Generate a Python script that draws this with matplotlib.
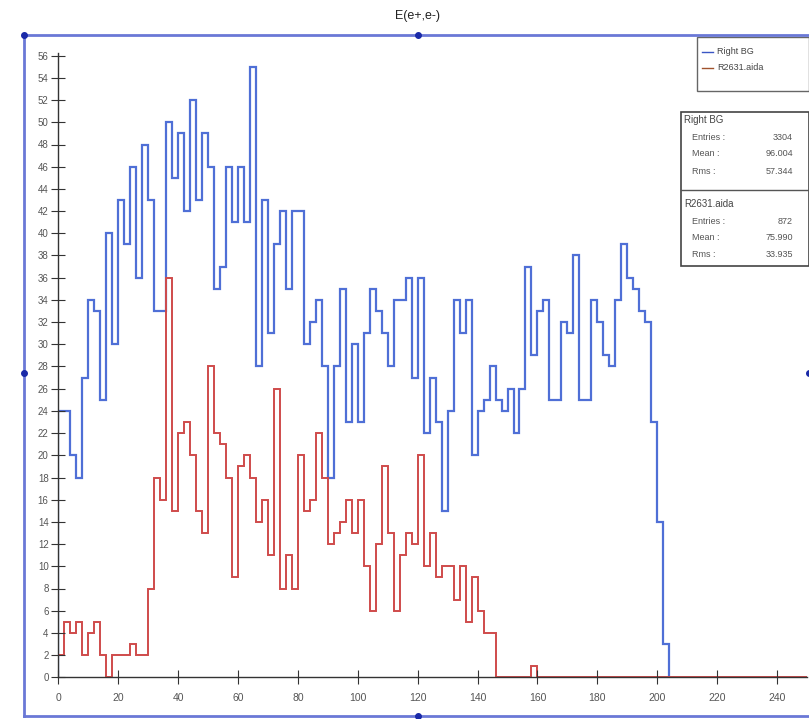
import numpy as np
import matplotlib
matplotlib.use("Agg")
import matplotlib.pyplot as plt
from matplotlib.patches import Rectangle
from matplotlib.lines import Line2D

plt.rcParams['font.family'] = ['Liberation Sans', 'DejaVu Sans']

# histogram contents, bin width 2 starting at 0
bin_width = 2
blue_counts = [24, 24, 20, 18, 27, 34, 33, 25, 40, 30,
               43, 39, 46, 36, 48, 43, 33, 33, 50, 45,
               49, 42, 52, 43, 49, 46, 35, 37, 46, 41,
               46, 41, 55, 28, 43, 31, 39, 42, 35, 42,
               42, 30, 32, 34, 28, 18, 28, 35, 23, 30,
               23, 31, 35, 33, 31, 28, 34, 34, 36, 27,
               36, 22, 27, 23, 15, 24, 34, 31, 34, 20,
               24, 25, 28, 25, 24, 26, 22, 26, 37, 29,
               33, 34, 25, 25, 32, 31, 38, 25, 25, 34,
               32, 29, 28, 34, 39, 36, 35, 33, 32, 23, 14, 3]
red_counts = [2, 5, 4, 5, 2, 4, 5, 2, 0, 2,
              2, 2, 3, 2, 2, 8, 18, 16, 36, 15,
              22, 23, 20, 15, 13, 28, 22, 21, 18, 9,
              19, 20, 18, 14, 16, 11, 26, 8, 11, 8,
              20, 15, 16, 22, 18, 12, 13, 14, 16, 13,
              16, 10, 6, 12, 19, 13, 6, 11, 13, 12,
              20, 10, 13, 9, 10, 10, 7, 10, 5, 9,
              6, 4, 4, 0, 0, 0, 0, 0, 0, 1]
n_bins_total = 125

labels = ["Right BG", "R2631.aida"]
stats = {"Right BG": ("3304", "96.004", "57.344"),
         "R2631.aida": ("872", "75.990", "33.935")}

W, H = 809, 719
def fx(px):
    return px / W
def fy(py):
    return 1 - py / H

fig = plt.figure(figsize=(W / 100, H / 100), dpi=100)
fig.patch.set_facecolor("white")

x0, x1 = 58.3, 807.0
y0 = 677.3
ytop = 56.2
ppu_y = 11.1
ax = fig.add_axes([fx(x0), fy(y0), (x1 - x0) / W, ytop * ppu_y / H])

blue = np.array(blue_counts, dtype=float)
red = np.zeros(n_bins_total)
red[:len(red_counts)] = red_counts
blue_edges = np.arange(len(blue) + 1) * bin_width
red_edges = np.arange(n_bins_total + 1) * bin_width

ax.stairs(blue, blue_edges, baseline=0, color="#4f6fd6", linewidth=1.6)
ax.stairs(red, red_edges, baseline=0, color="#cf4b4b", linewidth=1.4)

ax.set_xlim(0, 250)
ax.set_ylim(0, ytop)
ax.set_xticks(np.arange(0, 241, 20))
ax.set_yticks(np.arange(0, 57, 2))
for s in ["top", "right"]:
    ax.spines[s].set_visible(False)
for s in ["left", "bottom"]:
    ax.spines[s].set_color("#333333")
    ax.spines[s].set_linewidth(1.0)
ax.tick_params(axis="y", direction="inout", length=10, width=0.8, pad=2,
               labelsize=7, labelcolor="#555555", color="#333333")
ax.tick_params(axis="x", direction="inout", length=10, width=0.8, pad=6,
               labelsize=7.5, labelcolor="#555555", color="#333333")
ax.set_facecolor("none")

# title
fig.text(fx(418), fy(16), "E(e+,e-)", ha="center", va="center", fontsize=9, color="#222222")

# selection frame around the plot
sel = "#6a78d6"
fig.add_artist(Line2D([fx(24), fx(809)], [fy(35), fy(35)], color=sel, lw=2))
fig.add_artist(Line2D([fx(24), fx(24)], [fy(35), fy(716)], color=sel, lw=2))
fig.add_artist(Line2D([fx(24), fx(809)], [fy(716), fy(716)], color=sel, lw=2))
for px, py in [(24, 35), (418, 35), (24, 373), (418, 716), (809, 373)]:
    fig.add_artist(Line2D([fx(px)], [fy(py)], marker="o", ms=4, color="#1a2aa8"))

# legend box
fig.add_artist(Rectangle((fx(697), fy(91)), fx(809) - fx(697), fy(37) - fy(91),
                         transform=fig.transFigure, facecolor="white",
                         edgecolor="#666666", lw=1))
leg_colors = ["#3a56c4", "#a0522d"]
for i, (lab, c) in enumerate(zip(labels, leg_colors)):
    yy = 52 + i * 16
    fig.add_artist(Line2D([fx(702), fx(713)], [fy(yy), fy(yy)], color=c, lw=1))
    fig.text(fx(717), fy(yy), lab, fontsize=6.5, color="#444444", va="center")

# statistics box
fig.add_artist(Rectangle((fx(681), fy(266)), fx(809) - fx(681), fy(112) - fy(266),
                         transform=fig.transFigure, facecolor="white",
                         edgecolor="#444444", lw=1.2))
fig.add_artist(Line2D([fx(681), fx(809)], [fy(190), fy(190)], color="#555555", lw=1))
for k, lab in enumerate(labels):
    base = 120 + k * 84
    ent, mean, rms = stats[lab]
    fig.text(fx(684), fy(base), lab, fontsize=7, color="#444444", va="center")
    for j, (name, val) in enumerate([("Entries :", ent), ("Mean :", mean), ("Rms :", rms)]):
        yy = base + 17 * (j + 1)
        fig.text(fx(692), fy(yy), name, fontsize=6.5, color="#555555", va="center")
        fig.text(fx(793), fy(yy), val, fontsize=6.5, color="#555555", va="center", ha="right")

fig.savefig("out.png", dpi=100)
